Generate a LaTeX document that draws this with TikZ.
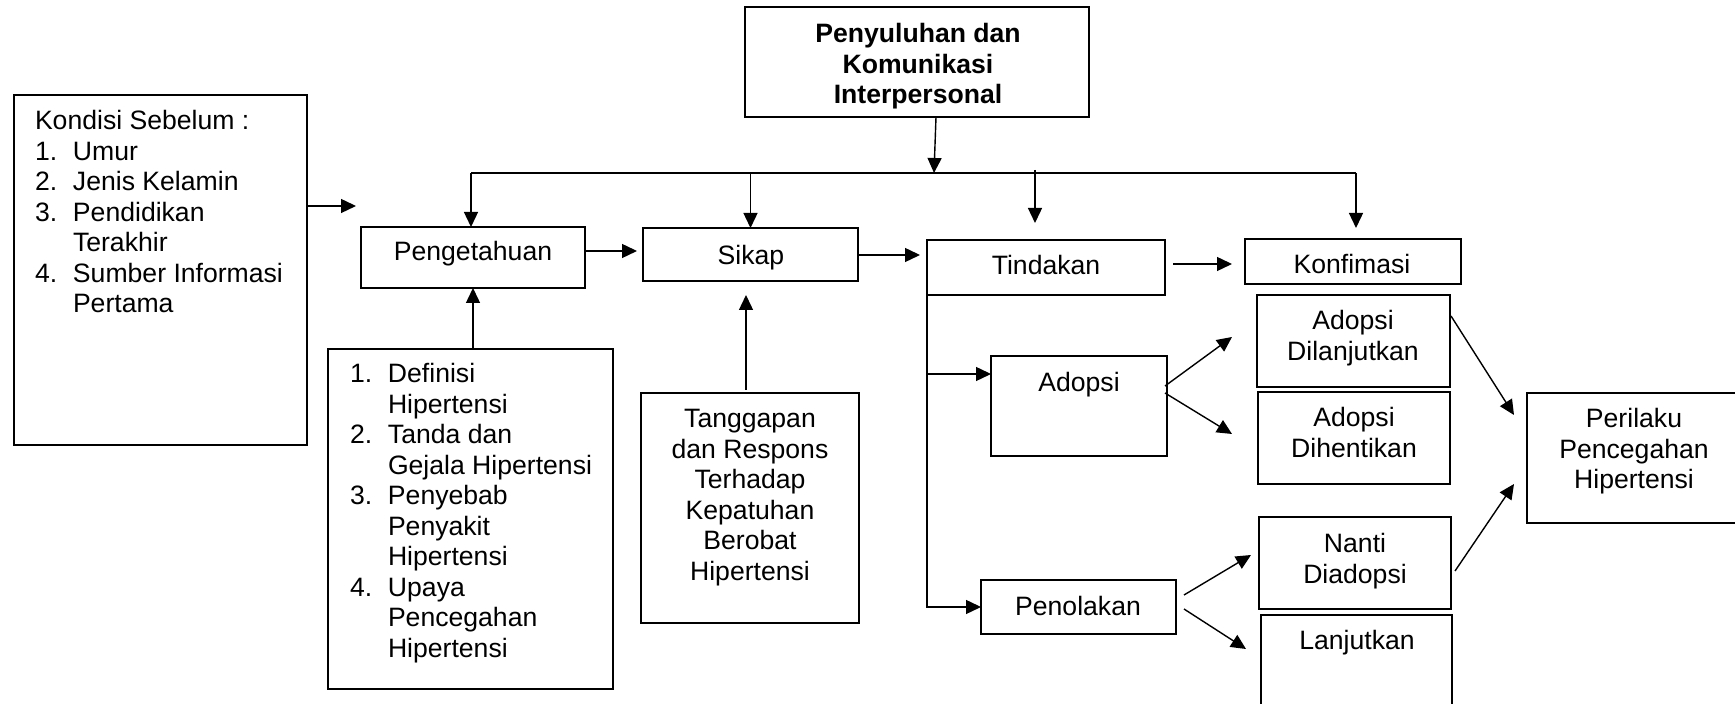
\documentclass[tikz,border=0pt]{standalone}
\usepackage{fontspec}
\setmainfont{Liberation Sans}
\usetikzlibrary{arrows.meta,calc}
\begin{document}
\begin{tikzpicture}[x=0.5pt,y=-0.5pt,
  box/.style={draw, line width=0.75pt, inner sep=0pt, outer sep=0pt},
  txt/.style={inner sep=0pt, outer sep=0pt, font=\fontsize{13.3}{15.25}\selectfont, anchor=base},
  lst/.style={txt, anchor=base west},
  conn/.style={line width=0.7pt},
  arr/.style={conn, -{Triangle[length=7.5pt,width=7pt]}}]
\useasboundingbox (0,0) rectangle (1735,704);
\clip (0,0) rectangle (1735,704);

% boxes
\node[box, minimum width=172pt, minimum height=55pt] (top) at (917,62) {};
\node[box, minimum width=146.5pt, minimum height=175pt] (kond) at (160.5,270) {};
\node[box, minimum width=112pt, minimum height=30.5pt] (peng) at (473,257.5) {};
\node[box, minimum width=107.5pt, minimum height=26.5pt] (sikap) at (750.5,254.5) {};
\node[box, minimum width=119pt, minimum height=27.5pt] (tind) at (1046,267.5) {};
\node[box, minimum width=108pt, minimum height=22.5pt] (konf) at (1353,261.5) {};
\node[box, minimum width=142.5pt, minimum height=170pt] (defin) at (470.5,519) {};
\node[box, minimum width=109pt, minimum height=115pt] (tangg) at (750,508) {};
\node[box, minimum width=88pt, minimum height=50pt] (adopsi) at (1079,406) {};
\node[box, minimum width=97.5pt, minimum height=27pt] (pen) at (1078.5,607) {};
\node[box, minimum width=96.5pt, minimum height=46pt] (dilan) at (1353.5,341) {};
\node[box, minimum width=96pt, minimum height=46pt] (dihen) at (1354,438) {};
\node[box, minimum width=96pt, minimum height=46pt] (nanti) at (1355,563) {};
\node[box, minimum width=95.5pt, minimum height=52.5pt] (lanj) at (1356.5,667.5) {};
\node[box, minimum width=109pt, minimum height=65pt] (peril) at (1636,458) {};

% texts
\node[txt] (top-t) at (918,43) {\bfseries\begin{tabular}[t]{@{}c@{}}Penyuluhan dan\\Komunikasi\\Interpersonal\end{tabular}};
\node[lst] (kond-t) at (35,130) {\begin{tabular}[t]{@{}l@{}l@{}}\multicolumn{2}{@{}l@{}}{Kondisi Sebelum :}\\
\makebox[19pt][l]{1.}&Umur\\
\makebox[19pt][l]{2.}&Jenis Kelamin\\
\makebox[19pt][l]{3.}&Pendidikan\\
&Terakhir\\
\makebox[19pt][l]{4.}&Sumber Informasi\\
&Pertama\end{tabular}};
\node[lst] (defin-t) at (350,383) {\begin{tabular}[t]{@{}l@{}l@{}}
\makebox[19pt][l]{1.}&Definisi\\
&Hipertensi\\
\makebox[19pt][l]{2.}&Tanda dan\\
&Gejala Hipertensi\\
\makebox[19pt][l]{3.}&Penyebab\\
&Penyakit\\
&Hipertensi\\
\makebox[19pt][l]{4.}&Upaya\\
&Pencegahan\\
&Hipertensi\end{tabular}};
\node[txt] (peng-t) at (473,261) {Pengetahuan};
\node[txt] (sikap-t) at (751,265) {Sikap};
\node[txt] (tind-t) at (1046,275) {Tindakan};
\node[txt] (konf-t) at (1352,274) {Konfimasi};
\node[txt] (tangg-t) at (750,428) {\begin{tabular}[t]{@{}c@{}}Tanggapan\\dan Respons\\Terhadap\\Kepatuhan\\Berobat\\Hipertensi\end{tabular}};
\node[txt] (adopsi-t) at (1079,392) {Adopsi};
\node[txt] (pen-t) at (1078,616) {Penolakan};
\node[txt] (dilan-t) at (1353,330) {\begin{tabular}[t]{@{}c@{}}Adopsi\\Dilanjutkan\end{tabular}};
\node[txt] (dihen-t) at (1354,427) {\begin{tabular}[t]{@{}c@{}}Adopsi\\Dihentikan\end{tabular}};
\node[txt] (nanti-t) at (1355,553) {\begin{tabular}[t]{@{}c@{}}Nanti\\Diadopsi\end{tabular}};
\node[txt] (lanj-t) at (1357,650) {Lanjutkan};
\node[txt] (peril-t) at (1634,428) {\begin{tabular}[t]{@{}c@{}}Perilaku\\Pencegahan\\Hipertensi\end{tabular}};

% coordinates
\coordinate (busL) at (471,173);
\coordinate (busR) at (1356,173);
\coordinate (busM) at (934,173);
\coordinate (tindA) at (1035,170);
\coordinate (tindB) at (1035,223);
\coordinate (konfB) at (1356,228);
\coordinate (kondB) at (356,206);
\coordinate (psB) at (637,251);
\coordinate (stB) at (920,255);
\coordinate (tkA) at (1173,264);
\coordinate (tkB) at (1232,264);
\coordinate (tsA) at (746,390);
\coordinate (tsB) at (746,295);
\coordinate (adoY) at (0,374);
\coordinate (adB1) at (1232,337);
\coordinate (adB2) at (1232,434);
\coordinate (dpB) at (1514,415);
\coordinate (npA) at (1455,571);
\coordinate (npB) at (1514,484);
\coordinate (pnA) at (1184,595);
\coordinate (pnB) at (1251,555);
\coordinate (plA) at (1184,609);
\coordinate (plB) at (1246,649);

% connectors
\draw[arr] ($(top.south)+(19,0)$) -- (busM);
\draw[conn] (busL) -- (busR);
\draw[arr] (busL) -- (busL |- peng.north);
\draw[arr] (sikap.north |- busL) -- (sikap.north);
\draw[arr] (tindA) -- (tindB);
\draw[arr] (busR) -- (konfB);
\draw[arr] (kond.east |- kondB) -- (kondB);
\draw[arr] (peng.east |- psB) -- (psB);
\draw[arr] (sikap.east |- stB) -- (stB);
\draw[arr] (tkA) -- (tkB);
\draw[arr] (peng.south |- defin.north) -- (peng.south);
\draw[arr] (tsA) -- (tsB);
\draw[arr] (tind.south west) -- (tind.south west |- pen.west) -- (pen.west);
\draw[arr] (tind.south west |- adoY) -- (adopsi.west |- adoY);
\draw[arr] ($(adopsi.east)+(-2,-20)$) -- (adB1);
\draw[arr] ($(adopsi.east)+(-2,-13)$) -- (adB2);
\draw[arr] ($(dilan.east)+(1,-25)$) -- (dpB);
\draw[arr] (npA) -- (npB);
\draw[arr] (pnA) -- (pnB);
\draw[arr] (plA) -- (plB);
\end{tikzpicture}
\end{document}
